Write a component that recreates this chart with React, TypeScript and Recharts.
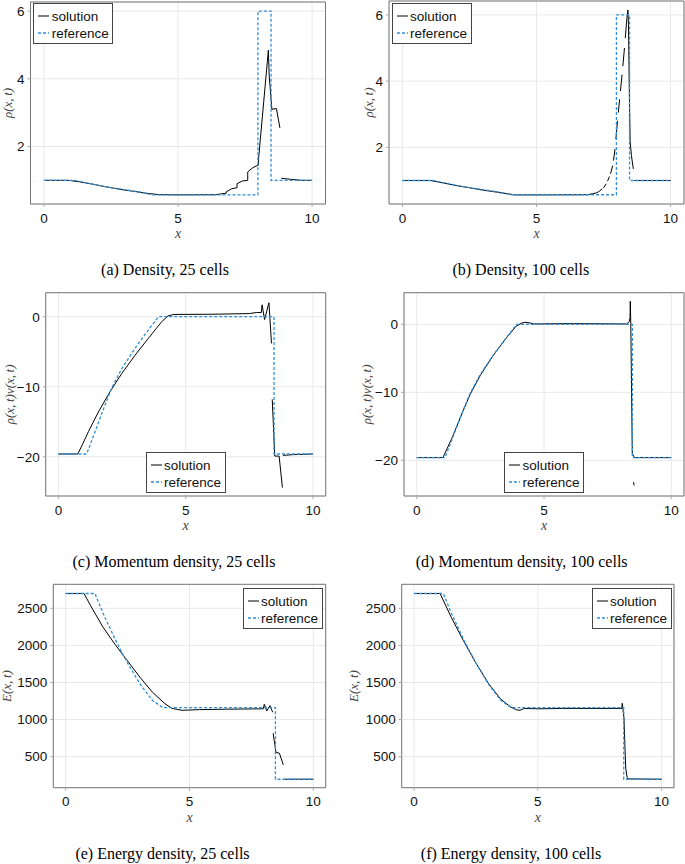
import React from 'react';
import { LineChart, Line, XAxis, YAxis, CartesianGrid, ReferenceArea, Legend, Label } from 'recharts';

type Pt = [number, number | null];

// ---------- ticks / labels ----------
const xTicks = [0, 5, 10];
const rhoTicks = [2, 4, 6];
const momTicks = [-20, -10, 0];
const energyTicks = [500, 1000, 1500, 2000, 2500];
const seriesNames = ['solution', 'reference'];
const captions = [
  '(a) Density, 25 cells',
  '(b) Density, 100 cells',
  '(c) Momentum density, 25 cells',
  '(d) Momentum density, 100 cells',
  '(e) Energy density, 25 cells',
  '(f) Energy density, 100 cells',
];
const yLabels = ['\u03C1(x,\u2009t)', '\u03C1(x,\u2009t)v(x,\u2009t)', 'E(x,\u2009t)'];

// ---------- reference (exact) solutions ----------
const refRho: Pt[] = [
  [0, 1], [1.15, 1], [1.6, 0.92], [2.1, 0.84], [2.6, 0.77], [3.1, 0.71], [3.6, 0.65], [4.05, 0.57],
  [7.98, 0.57], [7.98, 6], [8.47, 6], [8.47, 1], [10, 1],
];
const refMom: Pt[] = [
  [0, -19.6], [1.11, -19.6], [1.44, -16.4], [1.83, -12.6], [2.09, -10.2], [2.49, -7.4], [3.01, -4.5],
  [3.53, -1.9], [3.93, 0], [8.47, 0], [8.47, -19.6], [10, -19.6],
];
const refE: Pt[] = [
  [0, 2700], [1.18, 2700], [1.5, 2440], [2.0, 2080], [2.5, 1760], [3.0, 1480], [3.5, 1260], [3.92, 1160],
  [8.47, 1160], [8.47, 195], [10, 195],
];

// ---------- numerical solutions ----------
const solRho25: Pt[] = [
  [0, 1], [0.9, 1], [1.3, 0.96], [1.8, 0.89], [2.3, 0.81], [2.8, 0.74], [3.3, 0.68], [3.8, 0.62], [4.3, 0.575],
  [5, 0.57], [6.4, 0.575], [6.8, 0.62], [6.8, 0.66], [7.0, 0.75], [7.2, 0.78], [7.2, 0.9], [7.4, 0.98], [7.6, 1.0],
  [7.6, 1.25], [7.8, 1.38], [8.0, 1.45], [8.0, 1.6], [8.37, 4.85], [8.4, 4.1], [8.5, 3.1], [8.67, 3.12],
  [8.8, 2.55], [8.8, null], [8.85, 1.06], [9.2, 1.03], [9.6, 1.0], [10, 1.0],
];
const solRho100: Pt[] = [
  [0, 1], [1.05, 1], [1.5, 0.93], [2, 0.85], [2.5, 0.78], [3, 0.71], [3.5, 0.65], [4, 0.59], [4.2, 0.565],
  [5, 0.565], [6.9, 0.57], [7.1, 0.6], [7.25, 0.63], [7.35, 0.68], [7.45, 0.75], [7.47, null],
  [7.5, 0.78], [7.6, 0.9], [7.62, null], [7.65, 0.98], [7.72, 1.12], [7.74, null], [7.76, 1.2], [7.84, 1.45],
  [7.85, null], [7.87, 1.6], [7.93, 1.95], [7.94, null], [7.96, 2.25], [8.02, 2.8], [8.03, null],
  [8.05, 3.05], [8.1, 3.45], [8.11, null], [8.13, 3.7], [8.19, 4.2], [8.2, null], [8.22, 4.45], [8.28, 5.0],
  [8.29, null], [8.31, 5.3], [8.37, 5.9], [8.41, 6.15], [8.43, 5.7], [8.46, 3.8], [8.49, 2.2], [8.54, 1.75],
  [8.61, 1.35], [8.63, null], [8.65, 1.0], [10, 1.0],
];
const solMom25: Pt[] = [
  [0, -19.6], [0.76, -19.6], [0.95, -18.2], [1.18, -16.4], [1.57, -13.6], [2.03, -10.7], [2.49, -8.1],
  [3.01, -5.5], [3.53, -3.1], [4.06, -0.7], [4.3, 0.1], [4.5, 0.3], [4.7, 0.33], [6, 0.35], [7.5, 0.45],
  [7.78, 0.6], [7.97, 0.6], [8.0, 1.7], [8.1, -0.4], [8.27, 2.0], [8.37, -3.8], [8.38, null], [8.4, -11.8],
  [8.5, -19.9], [8.67, -19.9], [8.8, -24.4], [8.8, null], [8.82, -19.8], [9.2, -19.7], [10, -19.6],
];
const solMom100: Pt[] = [
  [0, -19.6], [1.03, -19.6], [1.4, -16.6], [1.8, -12.9], [2.1, -10.3], [2.5, -7.5], [3.0, -4.6], [3.5, -2.1],
  [3.9, -0.3], [4.1, 0.15], [4.25, 0.3], [4.45, 0.2], [4.6, 0.05], [6, 0.1], [8.25, 0.05], [8.35, 0.4],
  [8.38, 1.0], [8.39, 3.4], [8.41, 0.0], [8.44, -10], [8.47, -19.0], [8.55, -19.6], [10, -19.6], [10, null],
  [8.52, -23.2], [8.54, -23.7],
];
const solE25: Pt[] = [
  [0, 2700], [0.74, 2700], [1.0, 2540], [1.5, 2250], [2.0, 2010], [2.5, 1790], [3.0, 1570], [3.5, 1370],
  [4.0, 1215], [4.3, 1150], [4.7, 1125], [5.4, 1134], [6.5, 1140], [7.98, 1145], [8.02, 1206], [8.12, 1116],
  [8.25, 1188], [8.36, 1098], [8.37, null], [8.38, 815], [8.49, 559], [8.63, 545], [8.79, 388], [8.8, null],
  [8.85, 195], [10, 195],
];
const solE100: Pt[] = [
  [0, 2700], [1.05, 2700], [1.5, 2380], [2.0, 2060], [2.5, 1760], [3.0, 1490], [3.5, 1275], [3.9, 1170],
  [4.15, 1130], [4.28, 1125], [4.45, 1150], [5.0, 1145], [6.0, 1150], [8.39, 1150], [8.41, 1220], [8.45, 1100],
  [8.48, 1017], [8.52, 612], [8.55, 343], [8.59, 253], [8.62, 200], [10, 195],
];

// ---------- styles ----------
const SANS = "'Liberation Sans', Arial, Helvetica, sans-serif";
const SERIF = "'Liberation Serif', 'Times New Roman', serif";
const BLUE = '#2f8fd8';
const seriesStyle: Record<string, { stroke: string; width: number; dash?: string }> = {
  solution: { stroke: '#000000', width: 1 },
  reference: { stroke: BLUE, width: 1.3, dash: '3 2' },
};

const toRows = (pts: Pt[]) => pts.map(([x, y]) => ({ x, y }));
const fmt = (v: number) => (v < 0 ? '\u2212' + Math.abs(v) : String(v));

interface PanelCfg {
  left: number; top: number; w: number; h: number;
  frame: { l: number; r: number; t: number; b: number };
  yDomain: [number, number];
  yTicks: number[];
  yLabel: string;
  yLabelX: number;
  solution: Pt[];
  reference: Pt[];
  legend: { left: number; top: number };
  caption: string; captionX: number; captionY: number;
}

const LegendBox = (props: any) => {
  const payload = [...(props.payload || [])].sort(
    (a: any, b: any) => seriesNames.indexOf(a.value) - seriesNames.indexOf(b.value),
  );
  return (
    <div style={{ paddingTop: 3.5, paddingLeft: 4, fontFamily: SANS, fontSize: 13.5, color: '#111' }}>
      {payload.map((entry: any) => {
        const st = seriesStyle[entry.value] || { stroke: entry.color, width: 1 };
        return (
          <div key={entry.value} style={{ display: 'flex', alignItems: 'center', height: 17, lineHeight: '17px' }}>
            <svg width={11} height={10} style={{ marginRight: 2.4, flex: 'none' }}>
              <line x1={0} y1={5} x2={11} y2={5} stroke={st.stroke} strokeWidth={st.width} strokeDasharray={st.dash} />
            </svg>
            <span>{entry.value}</span>
          </div>
        );
      })}
    </div>
  );
};

function Panel({ cfg }: { cfg: PanelCfg }) {
  const { frame } = cfg;
  const xAxisH = 40;
  const margin = {
    top: frame.t - cfg.top,
    left: 0,
    right: cfg.left + cfg.w - frame.r,
    bottom: cfg.top + cfg.h - frame.b - xAxisH,
  };
  const yAxisW = frame.l - cfg.left;
  const tickStyle = { fill: '#111', fontSize: 13.5, fontFamily: SANS };
  return (
    <div style={{ position: 'absolute', left: cfg.left, top: cfg.top }}>
      <LineChart width={cfg.w} height={cfg.h} margin={margin}>
        <CartesianGrid stroke="#e8e8e8" strokeWidth={1} />
        <XAxis
          dataKey="x" type="number" domain={[-0.5, 10.5]} ticks={xTicks} allowDataOverflow interval={0}
          axisLine={false} tickLine={{ stroke: '#aaa' }} tickSize={3} tickMargin={6} height={xAxisH}
          tick={tickStyle} tickFormatter={fmt}
        >
          <Label value="x" position="insideBottom" offset={6}
            style={{ fontFamily: SERIF, fontStyle: 'italic', fontSize: 14, fill: '#444' }} />
        </XAxis>
        <YAxis
          type="number" domain={cfg.yDomain} ticks={cfg.yTicks} allowDataOverflow interval={0}
          axisLine={false} tickLine={{ stroke: '#aaa' }} tickSize={3} tickMargin={3} width={yAxisW}
          tick={tickStyle} tickFormatter={fmt}
        >
          <Label value={cfg.yLabel} angle={-90} position="insideLeft" offset={cfg.yLabelX - cfg.left}
            style={{ textAnchor: 'middle', fontFamily: SERIF, fontStyle: 'italic', fontSize: 13, fill: '#444' }} />
        </YAxis>
        <ReferenceArea x1={-0.5} x2={10.5} y1={cfg.yDomain[0]} y2={cfg.yDomain[1]}
          fill="none" fillOpacity={0} stroke="#777" strokeWidth={1} ifOverflow="visible" />
        <Line data={toRows(cfg.solution)} dataKey="y" name={seriesNames[0]} type="linear"
          stroke={seriesStyle.solution.stroke} strokeWidth={seriesStyle.solution.width}
          dot={false} activeDot={false} connectNulls={false} isAnimationActive={false} />
        <Line data={toRows(cfg.reference)} dataKey="y" name={seriesNames[1]} type="linear"
          stroke={seriesStyle.reference.stroke} strokeWidth={seriesStyle.reference.width}
          strokeDasharray={seriesStyle.reference.dash}
          dot={false} activeDot={false} connectNulls={false} isAnimationActive={false} />
        <Legend
          layout="horizontal" verticalAlign="middle" align="center" width={80} height={41}
          itemSorter={null as any}
          content={LegendBox}
          wrapperStyle={{
            left: cfg.legend.left - cfg.left, top: cfg.legend.top - cfg.top, width: 80, height: 41,
            border: '1px solid #444', background: '#fff', boxSizing: 'border-box',
          }}
        />
      </LineChart>
    </div>
  );
}

const panels: PanelCfg[] = [
  {
    left: 0, top: 0, w: 340, h: 250, frame: { l: 30.5, r: 325.5, t: 2, b: 204 },
    yDomain: [0.3, 6.27], yTicks: rhoTicks, yLabel: yLabels[0], yLabelX: 7.5,
    solution: solRho25, reference: refRho, legend: { left: 33.3, top: 3.3 },
    caption: captions[0], captionX: 165, captionY: 271.7,
  },
  {
    left: 343, top: 0, w: 342, h: 250, frame: { l: 389, r: 684, t: 1, b: 204 },
    yDomain: [0.29, 6.42], yTicks: rhoTicks, yLabel: yLabels[0], yLabelX: 368,
    solution: solRho100, reference: refRho, legend: { left: 391.7, top: 3.3 },
    caption: captions[1], captionX: 520.8, captionY: 271,
  },
  {
    left: 0, top: 280, w: 340, h: 260, frame: { l: 45.7, r: 325.7, t: 292.7, b: 496 },
    yDomain: [-25.6, 3.43], yTicks: momTicks, yLabel: yLabels[1], yLabelX: 9,
    solution: solMom25, reference: refMom, legend: { left: 145.7, top: 452.3 },
    caption: captions[2], captionX: 174, captionY: 563.3,
  },
  {
    left: 343, top: 280, w: 342, h: 260, frame: { l: 404, r: 684, t: 292.7, b: 496 },
    yDomain: [-25.25, 4.65], yTicks: momTicks, yLabel: yLabels[1], yLabelX: 366,
    solution: solMom100, reference: refMom, legend: { left: 504, top: 452.3 },
    caption: captions[3], captionX: 521.7, captionY: 563.3,
  },
  {
    left: 0, top: 575, w: 340, h: 260, frame: { l: 53.3, r: 325.7, t: 584.3, b: 787.7 },
    yDomain: [81, 2824], yTicks: energyTicks, yLabel: yLabels[2], yLabelX: 6.5,
    solution: solE25, reference: refE, legend: { left: 242.7, top: 588.3 },
    caption: captions[4], captionX: 162.5, captionY: 855,
  },
  {
    left: 343, top: 575, w: 342, h: 260, frame: { l: 401.7, r: 674, t: 584.3, b: 787.7 },
    yDomain: [81, 2824], yTicks: energyTicks, yLabel: yLabels[2], yLabelX: 353,
    solution: solE100, reference: refE, legend: { left: 591.7, top: 588.3 },
    caption: captions[5], captionX: 511, captionY: 855,
  },
];

export default function App() {
  return (
    <div style={{ position: 'absolute', left: 0, top: 0, width: 685, height: 864, background: '#fff', overflow: 'hidden' }}>
      {panels.map((p, i) => (
        <Panel key={i} cfg={p} />
      ))}
      {panels.map((p, i) => (
        <div
          key={'c' + i}
          style={{
            position: 'absolute', left: p.captionX - 160, top: p.captionY - 9.3, width: 320,
            textAlign: 'center', fontFamily: SERIF, fontSize: 16, lineHeight: '16px', color: '#000', whiteSpace: 'nowrap',
          }}
        >
          {p.caption}
        </div>
      ))}
    </div>
  );
}
